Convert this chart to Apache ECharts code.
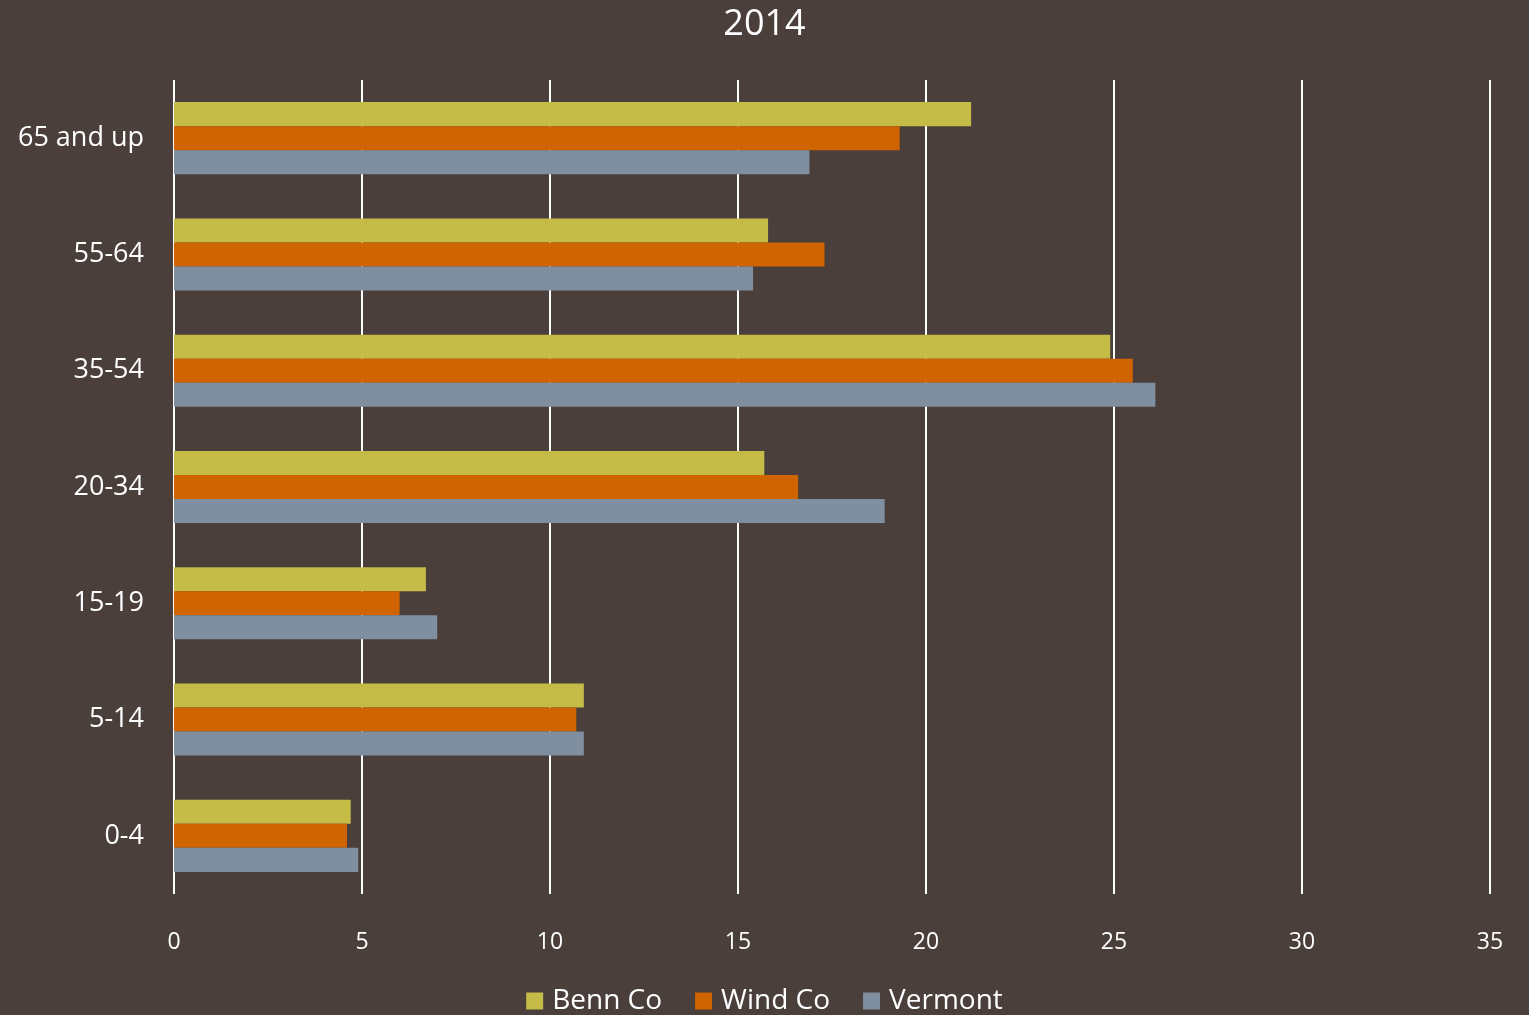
<!DOCTYPE html>
<html>
<head>
<meta charset="utf-8">
<style>
  html, body { margin: 0; padding: 0; background: #4a3f3b; }
  #chart { width: 1529px; height: 1015px; }
</style>
<script src="https://cdn.jsdelivr.net/npm/echarts@6/dist/echarts.min.js"></script>
</head>
<body>
<div id="chart"></div>
<script>
// Age groups, listed top to bottom
const ageGroups = ['65 and up', '55-64', '35-54', '20-34', '15-19', '5-14', '0-4'];
// Share of population (%) by age group, 2014
const bennCo   = [21.2, 15.8, 24.9, 15.7, 6.7, 10.9, 4.7];
const windCo   = [19.3, 17.3, 25.5, 16.6, 6.0, 10.7, 4.6];
const vermont  = [16.9, 15.4, 26.1, 18.9, 7.0, 10.9, 4.9];
const xTicks = { min: 0, max: 35, interval: 5 };

const FONT = '"Open Sans", "Noto Sans", sans-serif';

const chart = echarts.init(document.getElementById('chart'));
chart.setOption({
  backgroundColor: '#4a3f3b',
  animation: false,
  textStyle: { fontFamily: FONT, color: '#ffffff' },
  title: {
    text: '2014',
    left: 'center',
    top: 2,
    textStyle: { color: '#ffffff', fontSize: 36, fontWeight: 'normal', fontFamily: FONT }
  },
  legend: {
    bottom: -5,
    left: 'center',
    itemWidth: 17,
    itemHeight: 17,
    itemGap: 33,
    icon: 'rect',
    textStyle: { color: '#ffffff', fontSize: 28, fontFamily: FONT, padding: [0, 0, 0, 4] },
    data: ['Benn Co', 'Wind Co', 'Vermont']
  },
  grid: { left: 174, right: 39, top: 80, bottom: 121, containLabel: false },
  xAxis: {
    type: 'value',
    min: xTicks.min,
    max: xTicks.max,
    interval: xTicks.interval,
    axisLine: { show: false },
    axisTick: { show: false },
    axisLabel: { color: '#ffffff', fontSize: 23, margin: 37, fontFamily: FONT },
    splitLine: { show: true, lineStyle: { color: '#ffffff', width: 2 } }
  },
  yAxis: {
    type: 'category',
    inverse: true,
    data: ageGroups,
    axisLine: { show: false },
    axisTick: { show: false },
    axisLabel: { color: '#ffffff', fontSize: 27, margin: 30, fontFamily: FONT, padding: [4, 0, 0, 0] }
  },
  series: [
    { name: 'Benn Co', type: 'bar', data: bennCo, barGap: '0%', barCategoryGap: '38%',
      itemStyle: { color: '#c5bb47' } },
    { name: 'Wind Co', type: 'bar', data: windCo, barGap: '0%', barCategoryGap: '38%',
      itemStyle: { color: '#d06400' } },
    { name: 'Vermont', type: 'bar', data: vermont, barGap: '0%', barCategoryGap: '38%',
      itemStyle: { color: '#808fa0' } }
  ]
});
</script>
</body>
</html>
